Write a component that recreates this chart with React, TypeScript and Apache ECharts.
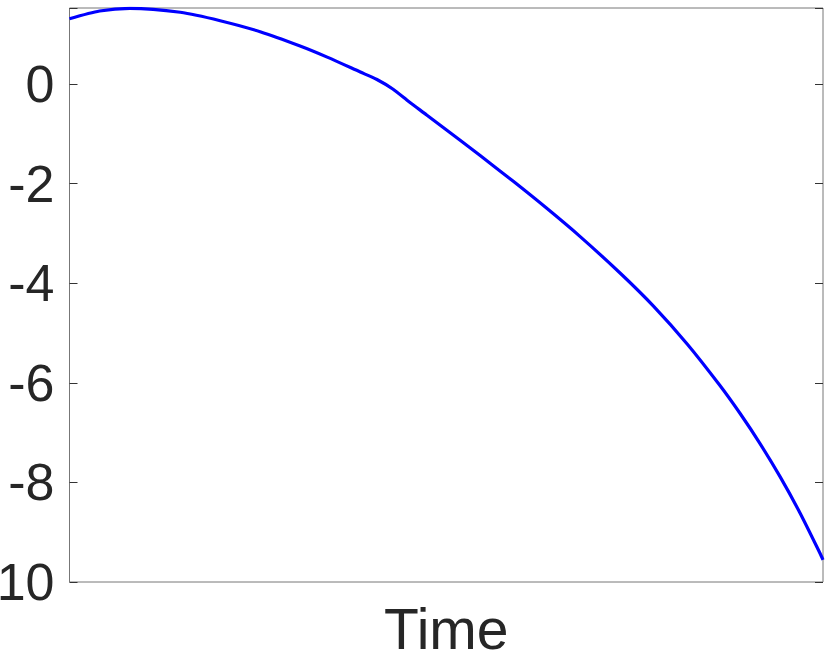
import React, { useEffect, useRef } from "react";
import * as echarts from "echarts";

const timeValues = [0, 0.04, 0.08, 0.147, 0.2, 0.253, 0.306, 0.342, 0.386, 0.408, 0.429, 0.451, 0.474, 0.518, 0.545, 0.589, 0.633, 0.677, 0.731, 0.775, 0.82, 0.863, 0.89, 0.916, 0.943, 0.9695, 0.996, 1.0];
const seriesValues = [1.311, 1.466, 1.52, 1.44, 1.271, 1.05, 0.763, 0.54, 0.24, 0.09, -0.1, -0.361, -0.621, -1.123, -1.436, -1.955, -2.492, -3.055, -3.8, -4.46, -5.225, -6.05, -6.617, -7.21, -7.885, -8.614, -9.422, -9.554];
const yTickValues = [-10, -8, -6, -4, -2, 0];
const xAxisName = "Time";

export default function App() {
  const ref = useRef<HTMLDivElement>(null);
  useEffect(() => {
    if (!ref.current) return;
    const chart = echarts.init(ref.current, undefined, { renderer: "svg" });
    const textColor = "#262626";
    const font = "'Liberation Sans', Arial, Helvetica, sans-serif";
    const yLabelFormatter = (v: number) =>
      yTickValues.some((t) => Math.abs(t - v) < 1e-6) ? String(v) : "";
    chart.setOption({
      animation: false,
      backgroundColor: "#ffffff",
      grid: {
        left: 69.5,
        right: 8,
        top: 8,
        bottom: 74,
        containLabel: false,
        outerBoundsMode: "none",
        show: true,
        borderColor: "#777777",
        borderWidth: 1,
        backgroundColor: "transparent",
      },
      xAxis: {
        type: "value",
        min: 0,
        max: 1,
        name: xAxisName,
        nameLocation: "middle",
        nameGap: 18,
        nameTextStyle: { fontSize: 57, color: textColor, fontFamily: font, verticalAlign: "top" },
        axisLine: { show: false },
        axisTick: { show: false },
        axisLabel: { show: false },
        splitLine: { show: false },
      },
      yAxis: [
        {
          type: "value",
          min: -10,
          max: 1.526,
          interval: 2,
          position: "left",
          axisLine: { show: false },
          axisTick: { show: true, inside: true, length: 8, lineStyle: { color: "#333333", width: 1 } },
          axisLabel: {
            show: true,
            margin: 15,
            fontSize: 52,
            color: textColor,
            fontFamily: font,
            formatter: yLabelFormatter,
          },
          splitLine: { show: false },
        },
        {
          type: "value",
          min: -10,
          max: 1.526,
          interval: 2,
          position: "right",
          axisLine: { show: false },
          axisTick: { show: true, inside: true, length: 8, lineStyle: { color: "#333333", width: 1 } },
          axisLabel: { show: false },
          splitLine: { show: false },
        },
      ],
      series: [
        {
          type: "line",
          data: timeValues.map((t, i) => [t, seriesValues[i]]),
          showSymbol: false,
          smooth: 0.25,
          lineStyle: { color: "#0000ff", width: 3.2 },
          yAxisIndex: 0,
        },
      ],
    });
    return () => chart.dispose();
  }, []);
  return (
    <div
      ref={ref}
      style={{ position: "fixed", left: 0, top: 0, width: 831, height: 656 }}
    />
  );
}
